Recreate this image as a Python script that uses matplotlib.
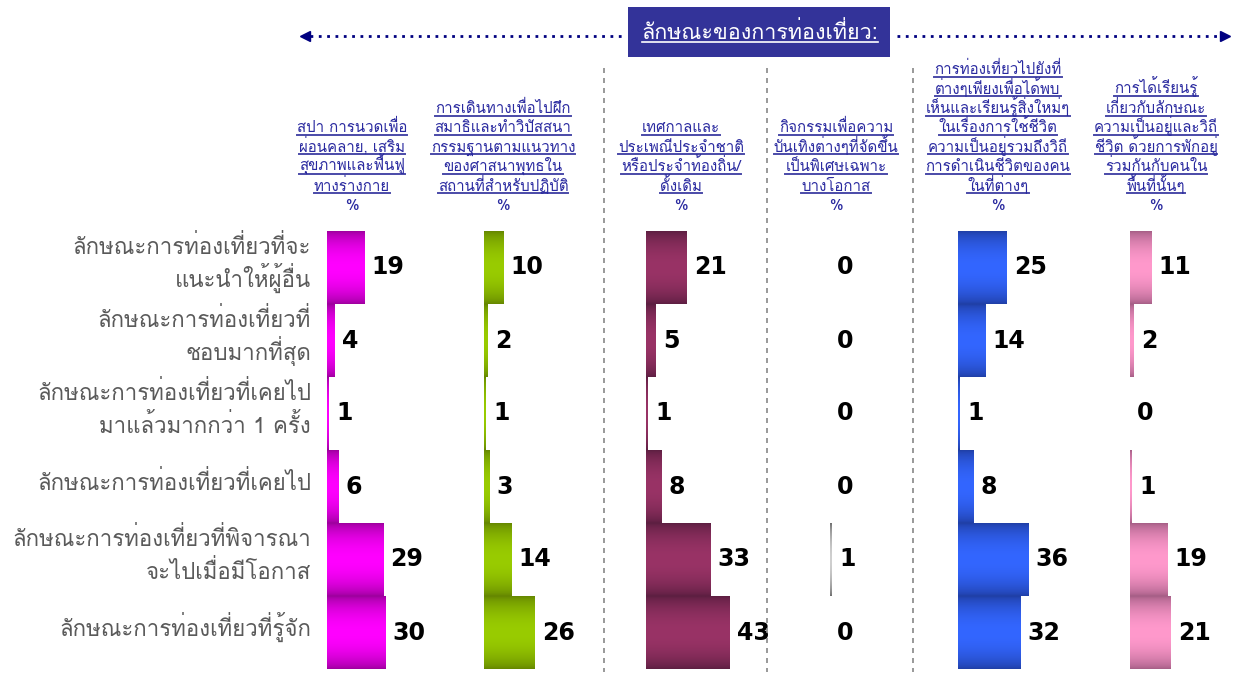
import numpy as np
import matplotlib
matplotlib.use("Agg")
import matplotlib.pyplot as plt
from matplotlib.lines import Line2D
from matplotlib.patches import Rectangle

# row labels (travel characteristic)
rows = [
    "ลักษณะการท่องเที่ยวที่จะ\nแนะนำให้ผู้อื่น",
    "ลักษณะการท่องเที่ยวที่\nชอบมากที่สุด",
    "ลักษณะการท่องเที่ยวที่เคยไป\nมาแล้วมากกว่า 1 ครั้ง",
    "ลักษณะการท่องเที่ยวที่เคยไป",
    "ลักษณะการท่องเที่ยวที่พิจารณา\nจะไปเมื่อมีโอกาส",
    "ลักษณะการท่องเที่ยวที่รู้จัก",
]

# column headers (type of tourism)
headers = [
    ["สปา การนวดเพื่อ", "ผ่อนคลาย, เสริม", "สุขภาพและฟื้นฟู", "ทางร่างกาย"],
    ["การเดินทางเพื่อไปฝึก", "สมาธิและทำวิปัสสนา", "กรรมฐานตามแนวทาง",
     "ของศาสนาพุทธใน", "สถานที่สำหรับปฏิบัติ"],
    ["เทศกาลและ", "ประเพณีประจำชาติ", "หรือประจำท้องถิ่น/", "ดั้งเดิม"],
    ["กิจกรรมเพื่อความ", "บันเทิงต่างๆที่จัดขึ้น", "เป็นพิเศษเฉพาะ", "บางโอกาส"],
    ["การท่องเที่ยวไปยังที่", "ต่างๆเพียงเพื่อได้พบ", "เห็นและเรียนรู้สิ่งใหม่ๆ",
     "ในเรื่องการใช้ชีวิต", "ความเป็นอยู่รวมถึงวิถี", "การดำเนินชีวิตของคน",
     "ในที่ต่างๆ"],
    ["การได้เรียนรู้", "เกี่ยวกับลักษณะ", "ความเป็นอยู่และวิถี",
     "ชีวิต ด้วยการพักอยู่", "ร่วมกันกับคนใน", "พื้นที่นั้นๆ"],
]

spa = [19, 4, 1, 6, 29, 30]
meditation = [10, 2, 1, 3, 14, 26]
festival = [21, 5, 1, 8, 33, 43]
entertainment = [0, 0, 0, 0, 1, 0]
lifestyle = [25, 14, 1, 8, 36, 32]
homestay = [11, 2, 0, 1, 19, 21]
series = [spa, meditation, festival, entertainment, lifestyle, homestay]

title = "ลักษณะของการท่องเที่ยว:"

# (edge colour, centre colour) for each column's shaded bars
shades = [
    ("#a000a0", "#ff00ff"),
    ("#668800", "#99cc00"),
    ("#5e1f42", "#993366"),
    ("#707070", "#d0d0d0"),
    ("#2040a8", "#3366ff"),
    ("#a86088", "#ff99cc"),
]

W, H = 1237, 674
col_left = [327, 484, 646, 830, 958, 1130]
col_head_x = [352, 503, 681, 836, 998, 1156]
px_per_unit = 1.95
top, bottom = 231, 669

thai = ["Loma", "DejaVu Sans"]
head_color = "#2a2aa0"

fig = plt.figure(figsize=(W / 100, H / 100), dpi=100)


def fx(x):
    return x / W


def fy(y):
    return 1 - y / H


def gradient(c0, c1, n=64):
    a = np.array(matplotlib.colors.to_rgb(c0))
    b = np.array(matplotlib.colors.to_rgb(c1))
    s = np.sin(np.linspace(0, np.pi, n)) ** 0.7
    return (a + (b - a) * s[:, None])[:, None, :]


n = len(rows)
for vals, left, (c0, c1) in zip(series, col_left, shades):
    w = 150
    ax = fig.add_axes([fx(left), fy(bottom), w / W, (bottom - top) / H])
    ax.axis("off")
    grad = gradient(c0, c1)
    bars = ax.barh(range(n), vals, height=1.0, left=0, color=c1, linewidth=0)
    for i, (b, v) in enumerate(zip(bars, vals)):
        if v > 0:
            im = ax.imshow(grad, extent=[0, v, i + 0.5, i - 0.5], aspect="auto",
                           interpolation="bilinear", zorder=2)
            im.set_clip_path(b)
        ax.annotate(str(v), (v, i), xytext=(5, 0), textcoords="offset points",
                    va="center", ha="left", fontsize=17, fontweight="bold",
                    family="DejaVu Sans", color="black")
    ax.set_xlim(0, w / px_per_unit)
    ax.set_ylim(n - 0.5, -0.5)

# row labels, one text per line so the line pitch stays fixed
row_h = (bottom - top) / n
line_pitch = 33
for i, lab in enumerate(rows):
    yc = top + row_h * (i + 0.5) - 3
    parts = lab.split("\n")
    first = yc - line_pitch * (len(parts) - 1) / 2
    for j, part in enumerate(parts):
        fig.text(fx(311), fy(first + j * line_pitch + 6), part, ha="right",
                 va="baseline", fontsize=16, family=thai, color="#5a5a5a")

# dashed separators
for xs in [604, 767, 913]:
    fig.add_artist(Line2D([fx(xs), fx(xs)], [fy(68), fy(672)], color="#888888",
                          lw=1.2, ls=(0, (3, 3))))

# column headers, each line underlined
fig.canvas.draw()
renderer = fig.canvas.get_renderer()
pitch = 19.4
for lines, xc in zip(headers, col_head_x):
    base_pct = 210
    fig.text(fx(xc), fy(base_pct), "%", ha="center", va="baseline", fontsize=11,
             family=thai, color=head_color)
    for k, line in enumerate(reversed(lines)):
        yb = base_pct - pitch * (k + 1)
        t = fig.text(fx(xc), fy(yb), line, ha="center", va="baseline",
                     fontsize=10.8, family=thai, color=head_color)
        bb = t.get_window_extent(renderer)
        fig.add_artist(Line2D([bb.x0 / W, bb.x1 / W], [fy(yb + 2.5)] * 2,
                              color="#4a4aa8", lw=1.4))

# banner with dotted arrows
fig.add_artist(Rectangle((fx(628), fy(57)), 262 / W, 50 / H, facecolor="#333399",
                         edgecolor="none"))
bt = fig.text(fx(760), fy(39), title, ha="center", va="baseline", fontsize=15.5,
              family=thai, color="white")
bb = bt.get_window_extent(renderer)
fig.add_artist(Line2D([bb.x0 / W, bb.x1 / W], [fy(42)] * 2, color="white", lw=1.2))

arrow_y = 36
fig.add_artist(Line2D([fx(310), fx(622)], [fy(arrow_y)] * 2, color="#000080",
                      lw=2, ls=(0, (1, 2))))
fig.add_artist(Line2D([fx(897), fx(1220)], [fy(arrow_y)] * 2, color="#000080",
                      lw=2, ls=(0, (1, 2))))
fig.add_artist(Line2D([fx(305)], [fy(arrow_y)], marker="<", ms=7, color="#000080",
                      lw=0))
fig.add_artist(Line2D([fx(1225)], [fy(arrow_y)], marker=">", ms=7, color="#000080",
                      lw=0))

fig.savefig("out.png", dpi=100)
